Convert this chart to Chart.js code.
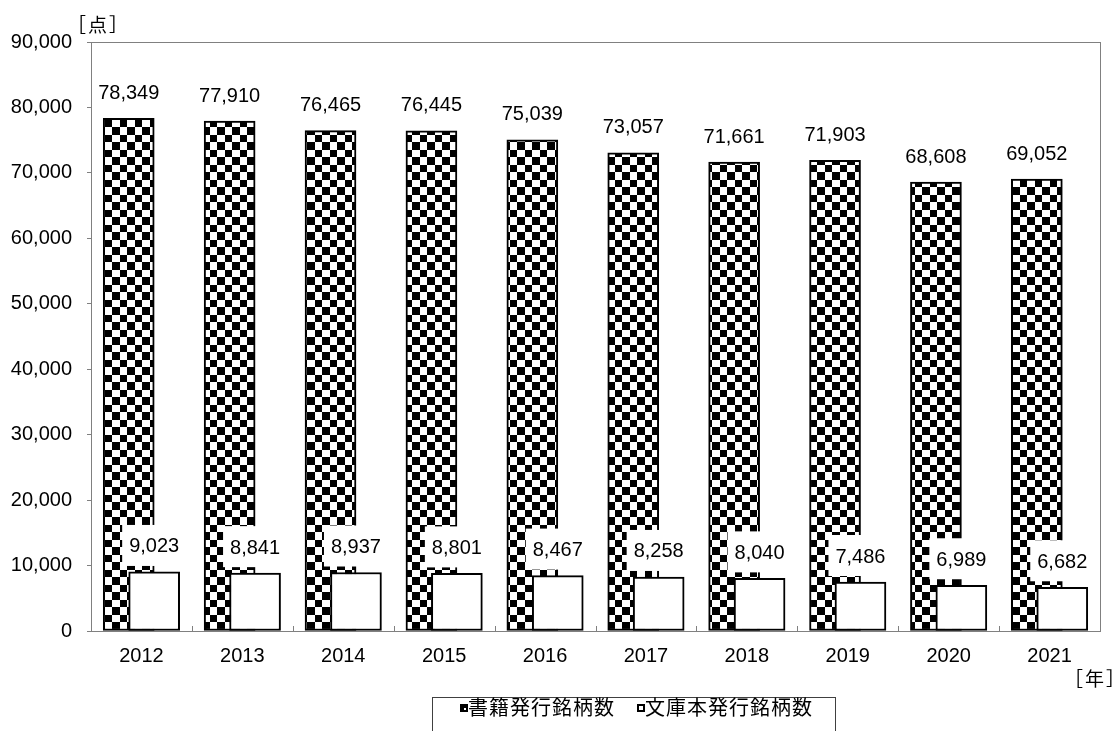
<!DOCTYPE html>
<html>
<head>
<meta charset="utf-8">
<script src="https://cdn.jsdelivr.net/npm/chart.js@4/dist/chart.umd.min.js"></script>
<style>
  body { margin: 0; background: #fff; }
  #wrap { position: relative; width: 1116px; height: 731px; overflow: hidden; }
  .unit { position: absolute; font: 19px "Noto Sans CJK JP", sans-serif; letter-spacing: 2px; line-height: 24px; color: #000; white-space: nowrap; }
  #legend {
    position: absolute; left: 432px; top: 697px; width: 404px; height: 44px;
    border: 1px solid #404040; box-sizing: border-box;
    font: 20px "Noto Sans CJK JP", sans-serif; letter-spacing: 1px; line-height: 20px; color: #000; white-space: nowrap;
  }
  #legend span.item { position: absolute; top: -1px; }
  .mk { display: inline-block; width: 8px; height: 8px; box-sizing: border-box; margin-right: 0px; vertical-align: 3px; }
  .mk.chk { background: #000; position: relative; }
  .mk.chk::after { content: ""; position: absolute; left: 4px; top: 4px; width: 2px; height: 2px; background: #fff; }
  .mk.wht { background: #fff; border: 2px solid #000; }
</style>
</head>
<body>
<div id="wrap">
  <canvas id="c" width="1116" height="731"></canvas>
  <div class="unit" style="left:67px; top:12px;">［点］</div>
  <div class="unit" style="left:1064px; top:666px;">［年］</div>
  <div id="legend">
    <span class="item" style="left:27px;"><span class="mk chk"></span>書籍発行銘柄数</span>
    <span class="item" style="left:204px;"><span class="mk wht"></span>文庫本発行銘柄数</span>
  </div>
</div>
<script>
// data
const years = ['2012', '2013', '2014', '2015', '2016', '2017', '2018', '2019', '2020', '2021'];
const bookTitles = [78349, 77910, 76465, 76445, 75039, 73057, 71661, 71903, 68608, 69052];
const bunkoTitles = [9023, 8841, 8937, 8801, 8467, 8258, 8040, 7486, 6989, 6682];
const yTicks = [0, 10000, 20000, 30000, 40000, 50000, 60000, 70000, 80000, 90000];

const numFont = { family: '"Liberation Sans", Arial, sans-serif', size: 20 };
const fmt = v => v.toLocaleString('en-US');

const canvas = document.getElementById('c');
const ctx = canvas.getContext('2d');

// black / white checker fill for the books series
function makeChecker() {
    const t = document.createElement('canvas');
    t.width = 15; t.height = 15;
    const g = t.getContext('2d');
    g.fillStyle = '#fff';
    g.fillRect(0, 0, 15, 15);
    g.fillStyle = '#000';
    g.fillRect(0, 0, 7, 7);
    g.fillRect(7, 7, 8, 8);
    return ctx.createPattern(t, 'repeat');
}
const checker = makeChecker();

// the two series overlap by half a bar: books shifted left, bunko right
const shift = 0.126;
const toPoints = (vals, dx) => vals.map((v, i) => ({ x: i + dx, y: v }));

// frame around the plot area, plus the small upward ticks between years
const frame = {
    id: 'frame',
    beforeDatasetsDraw(chart) {
        const a = chart.chartArea;
        const g = chart.ctx;
        g.save();
        g.strokeStyle = '#808080';
        g.lineWidth = 1;
        g.strokeRect(Math.round(a.left) + 0.5, Math.round(a.top) + 0.5,
            Math.round(a.right - a.left), Math.round(a.bottom - a.top));
        const xs = chart.scales.xb;
        g.beginPath();
        for (let i = 0; i < years.length - 1; i++) {
            const px = Math.round(xs.getPixelForValue(i + 0.5)) + 0.5;
            g.moveTo(px, a.bottom);
            g.lineTo(px, a.bottom - 5);
        }
        g.stroke();
        g.restore();
    }
};

// value labels over the bars
const valueLabels = {
    id: 'valueLabels',
    afterDatasetsDraw(chart) {
        const g = chart.ctx;
        g.save();
        g.font = numFont.size + 'px ' + numFont.family;
        g.textAlign = 'center';
        g.textBaseline = 'middle';
        // books first, so the bunko label boxes sit over the checker
        [1, 0].forEach(i => {
            const ds = chart.data.datasets[i];
            chart.getDatasetMeta(i).data.forEach((bar, j) => {
                if (ds.labelBox) {
                    g.fillStyle = '#fff';
                    g.fillRect(bar.x - 32, bar.y - 47, 66, 41);
                }
                g.fillStyle = '#000';
                g.fillText(fmt(ds.data[j].y), bar.x, bar.y - 25);
            });
        });
        g.restore();
    }
};

const barStyle = { grouped: false, barThickness: 51, borderWidth: 2, borderColor: '#000', borderSkipped: false, xAxisID: 'xb' };

new Chart(canvas, {
    type: 'bar',
    data: {
        labels: years,
        datasets: [
            Object.assign({ label: '文庫本発行銘柄数', data: toPoints(bunkoTitles, shift), backgroundColor: '#fff', labelBox: true }, barStyle),
            Object.assign({ label: '書籍発行銘柄数', data: toPoints(bookTitles, -shift), backgroundColor: checker }, barStyle),
        ]
    },
    options: {
        responsive: false,
        animation: false,
        devicePixelRatio: 1,
        layout: { padding: { left: 0, top: 42, right: 16, bottom: 60 } },
        plugins: { legend: { display: false }, tooltip: { enabled: false } },
        scales: {
            x: {
                type: 'category',
                offset: true,
                grid: { display: false },
                border: { color: '#808080' },
                ticks: { color: '#000', font: numFont, padding: 5, maxRotation: 0 },
                afterFit(s) { s.height = 40; }
            },
            xb: {
                type: 'linear',
                display: false,
                offset: false,
                min: -0.5,
                max: years.length - 0.5
            },
            y: {
                min: 0,
                max: 90000,
                afterBuildTicks(s) { s.ticks = yTicks.map(v => ({ value: v })); },
                grid: { drawOnChartArea: false, drawTicks: true, tickLength: 4, color: '#808080' },
                border: { color: '#808080' },
                ticks: { color: '#000', font: numFont, padding: 15, callback: v => fmt(v) },
                afterFit(s) { s.width = 91; }
            }
        }
    },
    plugins: [frame, valueLabels]
});
</script>
</body>
</html>
